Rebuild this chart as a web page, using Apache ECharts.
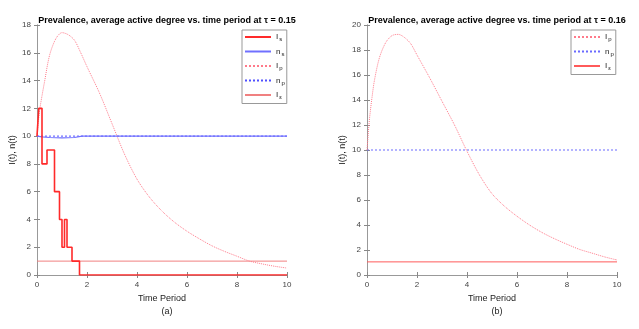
<!DOCTYPE html>
<html>
<head>
<meta charset="utf-8">
<script src="https://cdn.jsdelivr.net/npm/echarts@6/dist/echarts.min.js"></script>
<style>
html, body { margin: 0; padding: 0; background: #fff; }
#box { width: 639px; height: 329px; }
</style>
</head>
<body>
<div id="box"></div>
<script>
// panel (a), tau = 0.15
const tA = [0, 0.1, 0.2, 0.3, 0.5, 0.75, 1.0, 1.25, 1.5, 1.75, 2, 2.5, 3, 3.5, 4, 4.5, 5, 5.5, 6, 6.5, 7, 7.5, 8, 8.5, 9, 9.5, 10]
const IpA = [10, 11.8, 12.9, 13.9, 15.8, 17.0, 17.45, 17.3, 16.9, 16.0, 15.0, 13.1, 10.9, 8.7, 6.9, 5.6, 4.6, 3.8, 3.15, 2.6, 2.1, 1.7, 1.35, 1.0, 0.8, 0.63, 0.5]
// stochastic run, value holds from each time on
const IsT = [0, 0.07, 0.2, 0.4, 0.7, 0.9, 1.0, 1.1, 1.2, 1.4, 1.7, 10]
const IsV = [10, 12, 8, 9, 6, 4, 2, 4, 2, 1, 0, 0]
const nsT = [0, 0.2, 0.5, 1.0, 1.5, 1.8, 10]
const nsV = [10, 9.95, 9.9, 9.88, 9.9, 10, 10]
const npA = [[0, 10], [10, 10]]
const IeA = [[0, 1], [10, 1]]

// panel (b), tau = 0.16
const tB = [0, 0.1, 0.2, 0.3, 0.5, 0.75, 1.0, 1.25, 1.5, 1.75, 2, 2.5, 3, 3.5, 4, 4.5, 5, 5.5, 6, 6.5, 7, 7.5, 8, 8.5, 9, 9.5, 10]
const IpB = [10, 12.5, 14.2, 15.6, 17.4, 18.6, 19.15, 19.25, 19.0, 18.5, 17.6, 15.8, 13.9, 12.0, 9.9, 8.0, 6.5, 5.5, 4.7, 4.0, 3.4, 2.9, 2.46, 2.05, 1.75, 1.45, 1.2]
const npB = [[0, 10], [10, 10]]
const IeB = [[0, 1.05], [10, 1.05]]

const zip = (a, b) => a.map((x, i) => [x, b[i]])

const plot = echarts.init(document.getElementById('box'))

const grids = [
    {left: 37, top: 25, width: 250, height: 250},
    {left: 367, top: 25, width: 250, height: 250}
]
const tickLab = {fontSize: 8, color: '#444', fontFamily: 'Liberation Sans'}
const axisLine = {lineStyle: {color: '#999', width: 1}}

function xAx(gi, pos) {
    return {
        type: 'value', gridIndex: gi, position: pos, min: 0, max: 10, interval: 2,
        axisLine: axisLine, axisTick: {inside: true, length: 3, lineStyle: {color: '#888'}},
        axisLabel: pos == 'bottom' ? Object.assign({margin: 6}, tickLab) : {show: false},
        splitLine: {show: false},
        name: pos == 'bottom' ? 'Time Period' : '', nameLocation: 'middle', nameGap: 16,
        nameTextStyle: {fontSize: 9, color: '#222', fontFamily: 'Liberation Sans'}
    }
}
function yAx(gi, pos, max) {
    return {
        type: 'value', gridIndex: gi, position: pos, min: 0, max: max, interval: 2,
        axisLine: axisLine, axisTick: {inside: true, length: 3, lineStyle: {color: '#888'}},
        axisLabel: pos == 'left' ? Object.assign({margin: 6}, tickLab) : {show: false},
        splitLine: {show: false},
        name: pos == 'left' ? 'I(t), n(t)' : '', nameLocation: 'middle', nameGap: 20,
        nameTextStyle: {fontSize: 9, color: '#222', fontFamily: 'Liberation Sans'}
    }
}

const subs = {
    'Is': ['I', 's'], 'ns': ['n', 's'], 'Ip': ['I', 'p'], 'np': ['n', 'p'], 'Ie': ['I', 'ε'],
    'Ip ': ['I', 'p'], 'np ': ['n', 'p'], 'Ie ': ['I', 'ε']
}
const legRich = {
    m: {fontSize: 8, color: '#222', fontFamily: 'Liberation Sans'},
    s: {fontSize: 6, color: '#222', fontFamily: 'Liberation Sans', padding: [5, 0, 0, 1]}
}
function leg(names, left, top) {
    return {
        data: names, orient: 'vertical', left: left, top: top,
        itemWidth: 26, itemHeight: 8, itemGap: 5, padding: [3, 2, 3, 2],
        borderColor: '#999', borderWidth: 1, backgroundColor: '#fff',
        selectedMode: false,
        itemStyle: {opacity: 0},
        formatter: n => '{m|' + subs[n][0] + '}{s|' + subs[n][1] + '}',
        textStyle: {rich: legRich}
    }
}

function line(name, gi, data, color, type, width, step, smooth) {
    return {
        name: name, type: 'line', xAxisIndex: gi * 2, yAxisIndex: gi * 2, data: data,
        symbol: 'none', step: step || false, smooth: smooth || false, animation: false,
        lineStyle: {color: color, type: type, width: width},
        itemStyle: {color: color}
    }
}

plot.setOption({
    animation: false,
    title: [
        {text: 'Prevalence, average active degree vs. time period at τ = 0.15', left: 162, top: 11, textAlign: 'center',
         textStyle: {fontSize: 9, fontWeight: 'bold', color: '#000', fontFamily: 'Liberation Sans'}},
        {text: 'Prevalence, average active degree vs. time period at τ = 0.16', left: 492, top: 11, textAlign: 'center',
         textStyle: {fontSize: 9, fontWeight: 'bold', color: '#000', fontFamily: 'Liberation Sans'}},
        {text: '(a)', left: 162, top: 302, textAlign: 'center',
         textStyle: {fontSize: 9, fontWeight: 'normal', color: '#222', fontFamily: 'Liberation Sans'}},
        {text: '(b)', left: 492, top: 302, textAlign: 'center',
         textStyle: {fontSize: 9, fontWeight: 'normal', color: '#222', fontFamily: 'Liberation Sans'}}
    ],
    grid: grids,
    xAxis: [xAx(0, 'bottom'), xAx(0, 'top'), xAx(1, 'bottom'), xAx(1, 'top')],
    yAxis: [yAx(0, 'left', 18), yAx(0, 'right', 18), yAx(1, 'left', 20), yAx(1, 'right', 20)],
    legend: [leg(['Is', 'ns', 'Ip', 'np', 'Ie'], 242, 30), leg(['Ip ', 'np ', 'Ie '], 571, 30)],
    series: [
        line('Ie', 0, IeA, '#f08080', 'solid', 1),
        line('np', 0, npA, '#5050ff', [2, 2], 1),
        line('Ip', 0, zip(tA, IpA), '#ff7a8a', 'dotted', 1, false, 0.3),
        line('ns', 0, zip(nsT, nsV), '#7070ff', 'solid', 1.2),
        line('Is', 0, zip(IsT, IsV), '#ff2a2a', 'solid', 1.6, 'end'),
        line('Ie ', 1, IeB, '#ff5a5a', 'solid', 1),
        line('np ', 1, npB, '#6a6aff', [2, 2], 1),
        line('Ip ', 1, zip(tB, IpB), '#ff7a8a', 'dotted', 1, false, 0.3)
    ]
})
</script>
</body>
</html>
